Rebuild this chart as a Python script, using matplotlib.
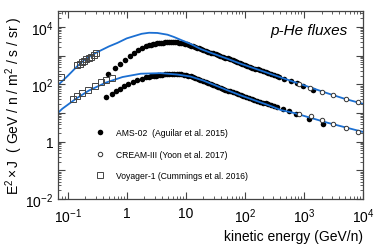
import matplotlib
matplotlib.use("Agg")
import matplotlib.pyplot as plt
import numpy as np
from matplotlib.ticker import LogLocator, FixedLocator, FuncFormatter, NullFormatter

plt.rcParams['font.family'] = ['Liberation Sans', 'DejaVu Sans']
plt.rcParams['mathtext.fontset'] = 'custom'
plt.rcParams['mathtext.rm'] = 'Liberation Sans'
plt.rcParams['mathtext.it'] = 'Liberation Sans:italic'

# model curves (blue)
model_p_E = [0.071, 0.1, 0.146, 0.2, 0.3, 0.5, 0.7, 1.0, 1.33, 1.8, 2.4, 3.3, 4.9, 6.3,
             9, 12.1, 18, 30, 51, 86, 187, 405, 685, 1000, 2500, 5000, 10000]
model_p_F = [100, 195, 430, 760, 1250, 2100, 2800, 4000, 4800, 5800, 6300, 6200, 5400, 4500,
             3300, 2570, 1700, 1150, 780, 520, 302, 175, 121, 93, 49, 31, 21]
model_he_E = [0.071, 0.081, 0.137, 0.23, 0.44, 0.85, 1.73, 3.77, 7.2, 12, 20, 51, 86,
              275, 405, 685, 2500, 10000]
model_he_F = [10.8, 14, 31, 61, 114, 180, 235, 246, 220, 188, 135, 62, 41,
              17.6, 12.8, 10, 4.6, 2.2]

# AMS-02
ams_p_E = [0.49, 0.63, 0.77, 0.94, 1.12, 1.33, 1.58, 1.85, 2.16, 2.35, 2.55, 2.75, 3.0, 3.25,
           3.5, 3.8, 4.1, 4.45, 4.8, 5.2, 5.6, 6.0, 6.5, 7.0, 7.6, 8.3, 9.0, 9.7, 10.5, 11.4,
           12.3, 13.4, 14.5, 15.7, 17, 18.5, 20, 22, 24, 26.5, 29, 32, 35, 38.5, 42, 46,
           51, 56, 62, 68, 75, 82, 90, 100, 110, 122, 135, 150, 165, 182, 200, 225, 250,
           280, 310, 345, 380, 470, 600, 760, 980, 1440]
ams_p_F = [229, 370, 524, 680, 937, 1230, 1520, 1830, 2150, 2280, 2400, 2500, 2600, 2680,
           2760, 2820, 2880, 2920, 2950, 2960, 2960, 2950, 2930, 2900, 2850, 2780, 2700, 2600, 2500, 2380,
           2250, 2130, 2000, 1890, 1780, 1680, 1580, 1480, 1380, 1290, 1200, 1120, 1050, 985, 920, 860,
           800, 740, 680, 635, 590, 550, 510, 475, 440, 410, 380, 355, 330, 310, 290, 267, 245,
           227, 210, 195, 180, 155, 132, 112, 87, 65]
ams_he_E = [0.45, 0.557, 0.65, 0.77, 0.9, 1.07, 1.28, 1.52, 1.79, 2.16, 2.4, 2.6, 2.85, 3.1,
            3.4, 3.7, 4.0, 4.4, 4.8, 5.3, 5.8, 6.4, 7.0, 7.7, 8.4, 9.2, 10.1, 11, 12.1, 13.2,
            14.5, 16, 17.7, 19.5, 21.7, 24, 26.5, 29, 32, 35, 39, 43, 47, 52, 57, 63, 70,
            78, 86, 95, 106, 118, 131, 145, 162, 180, 200, 225, 250, 280, 315, 350, 440,
            560, 730, 1200, 2130]
ams_he_F = [36, 47, 60, 70, 87, 105, 120, 137, 155, 175, 183, 190, 197, 203,
            209, 215, 220, 225, 229, 232, 233, 234, 232, 228, 222, 215, 207, 198, 189, 180,
            170, 158, 146, 135, 125, 115, 106, 98, 91, 84, 77, 71, 66, 61, 57, 53, 49.5,
            46, 43, 40, 37, 34, 31.7, 29.5, 27.2, 25, 23.2, 21.5, 20, 18.5, 17, 15.8, 13.5,
            11.5, 9.2, 6.0, 4.2]

# CREAM-III
cream_p_E = [830, 1280, 2030, 3170, 5130, 8120]
cream_p_F = [100, 74, 54, 41, 31, 25]
cream_he_E = [830, 1320, 2030, 3170, 5130, 8120]
cream_he_F = [9.5, 7.6, 5.8, 4.2, 3.1, 2.2]

# Voyager-1
voy_p_E = [0.077, 0.146, 0.16, 0.173, 0.19, 0.207, 0.23, 0.252, 0.28, 0.306]
voy_p_F = [175, 455, 530, 600, 670, 740, 830, 935, 1080, 1230]
voy_he_E = [0.123, 0.146, 0.177, 0.221, 0.287, 0.363, 0.44, 0.57]
voy_he_F = [30, 39, 50, 66, 85, 120, 137, 166]

blue = '#1b6fd2'

fig = plt.figure(figsize=(3.82, 2.51), dpi=100)
ax = fig.add_axes([0.153, 0.203, 0.797, 0.749])

ax.plot(model_p_E, model_p_F, color=blue, lw=1.3, zorder=1)
ax.plot(model_he_E, model_he_F, color=blue, lw=1.3, zorder=1)

ax.plot(ams_p_E, ams_p_F, 'o', color='black', ms=4.0, mew=0, zorder=0,
        label='AMS-02  (Aguilar et al. 2015)')
ax.plot(ams_he_E, ams_he_F, 'o', color='black', ms=4.0, mew=0, zorder=0)
ax.plot(cream_p_E, cream_p_F, 'o', mfc='white', mec='#333333', ms=3.2, mew=0.7,
        zorder=2, label='CREAM-III (Yoon et al. 2017)')
ax.plot(cream_he_E, cream_he_F, 'o', mfc='white', mec='#333333', ms=3.2, mew=0.7, zorder=2)
ax.plot(voy_p_E, voy_p_F, 's', mfc='none', mec='#444444', ms=4.4, mew=0.7,
        zorder=2, label='Voyager-1 (Cummings et al. 2016)')
ax.plot(voy_he_E, voy_he_F, 's', mfc='none', mec='#444444', ms=4.4, mew=0.7, zorder=2)

ax.set_xscale('log')
ax.set_yscale('log')
ax.set_xlim(0.07, 1e4)
ax.set_ylim(1e-2, 3.6e4)

def pow_fmt(v, pos):
    e = int(round(np.log10(v)))
    if e == 0:
        return '1'
    if e == 1:
        return '10'
    return r'$10^{%d}$' % e

ax.xaxis.set_major_locator(FixedLocator([0.1, 1, 10, 100, 1000, 10000]))
ax.xaxis.set_major_formatter(FuncFormatter(pow_fmt))
ax.xaxis.set_minor_locator(LogLocator(base=10, subs=np.arange(2, 10), numticks=20))
ax.xaxis.set_minor_formatter(NullFormatter())

ax.yaxis.set_major_locator(FixedLocator([1e-2, 1e-1, 1, 10, 1e2, 1e3, 1e4]))
ax.yaxis.set_major_formatter(FuncFormatter(
    lambda v, p: pow_fmt(v, p) if int(round(np.log10(v))) % 2 == 0 else ''))
ax.yaxis.set_minor_locator(LogLocator(base=10, subs=np.arange(2, 10), numticks=20))
ax.yaxis.set_minor_formatter(NullFormatter())

ax.tick_params(which='both', direction='in', top=True, right=True, colors='#444444',
               labelcolor='black', labelsize=10)
ax.tick_params(which='major', length=5, width=0.8)
ax.tick_params(which='minor', length=2.5, width=0.6)
ax.tick_params(axis='x', pad=5)
for s in ax.spines.values():
    s.set_color('#444444')
    s.set_linewidth(0.9)

ax.set_xlabel('kinetic energy (GeV/n)', fontsize=10, loc='right', labelpad=3)
ax.set_ylabel(r'E$^2\times$J  ( GeV / n / m$^2$ / s / sr )', fontsize=10, labelpad=0)

ax.text(0.95, 0.9, 'p-He fluxes', transform=ax.transAxes, ha='right', va='center',
        fontsize=11, style='italic')

ax.legend(loc='lower left', bbox_to_anchor=(0.095, 0.06), frameon=False, fontsize=6.2,
          handletextpad=1.2, labelspacing=1.45, handlelength=1.2, markerscale=1.0)

fig.savefig('out.png', dpi=100)
